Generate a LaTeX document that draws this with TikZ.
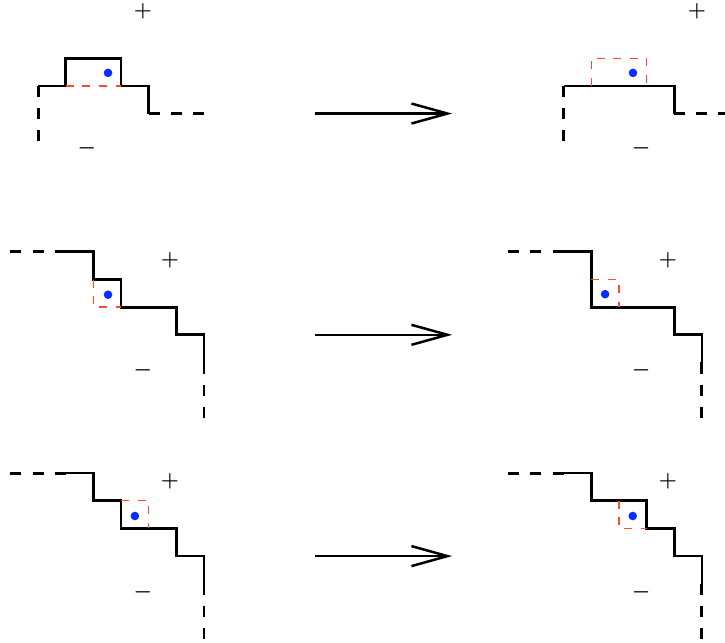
\documentclass[tikz,border=0pt]{standalone}
\usetikzlibrary{arrows.meta}
\definecolor{mvred}{RGB}{255,75,45}
\definecolor{mvblue}{RGB}{10,45,255}
\tikzset{
  wall/.style={line width=2.7pt, line join=miter, line cap=butt},
  wallext/.style={line width=2.9pt, dash pattern=on 11.06pt off 11.06pt},
  cellbox/.style={mvred, line width=1.4pt, dash pattern=on 8pt off 8.6pt},
  site/.style={fill=mvblue, draw=none},
  sign/.style={font=\fontsize{20}{24}\selectfont\boldmath, inner sep=0pt},
  move/.style={line width=2.5pt, -{Straight Barb[length=36pt,width=20pt,line width=2.5pt]}}
}
\begin{document}
\begin{tikzpicture}[x=27.66pt, y=-27.66pt]
\useasboundingbox (-0.376,-0.105) rectangle (25.835,23.14);
\clip (-0.376,-0.105) rectangle (25.835,23.14);

% ---------- Row 1, left ----------
\draw[wallext] (1,5) -- (1,3);
\draw[wall] (1,3) -- (2,3) -- (2,2) -- (4,2) -- (4,3) -- (5,3) -- (5,4);
\draw[wallext] (5,4) -- (7,4);
\draw[cellbox] (2,3) -- (4,3);
\fill[site] (3.53,2.53) circle (4.3pt);
\node[sign] (p1l) at (4.79,0.29) {$+$};
\node[sign] (m1l) at (2.77,5.25) {$-$};

% ---------- Row 1, right ----------
\draw[wallext] (20,5) -- (20,3);
\draw[wall] (20,3) -- (24,3) -- (24,4);
\draw[wallext] (24,4) -- (26,4);
\draw[cellbox] (21,3) -- (21,2) -- (23,2) -- (23,3);
\fill[site] (22.51,2.53) circle (4.3pt);
\node[sign] (p1r) at (24.82,0.29) {$+$};
\node[sign] (m1r) at (22.8,5.25) {$-$};

% ---------- Row 2, left ----------
\draw[wallext] (0,9) -- (2,9);
\draw[wall] (2,9) -- (3,9) -- (3,10) -- (4,10) -- (4,11) -- (6,11) -- (6,12) -- (7,12) -- (7,13);
\draw[wallext] (7,13) -- (7,15);
\draw[cellbox] (3,10) -- (3,11) -- (4,11);
\fill[site] (3.53,10.55) circle (4.3pt);
\node[sign] (p2l) at (5.77,9.3) {$+$};
\node[sign] (m2l) at (4.79,13.27) {$-$};

% ---------- Row 2, right ----------
\draw[wallext] (18,9) -- (20,9);
\draw[wall] (20,9) -- (21,9) -- (21,11) -- (24,11) -- (24,12) -- (25,12) -- (25,13);
\draw[wallext] (25,13) -- (25,15);
\draw[cellbox] (21,10) -- (22,10) -- (22,11);
\fill[site] (21.5,10.53) circle (4.3pt);
\node[sign] (p2r) at (23.77,9.3) {$+$};
\node[sign] (m2r) at (22.8,13.27) {$-$};

% ---------- Row 3, left ----------
\draw[wallext] (0,17) -- (2,17);
\draw[wall] (2,17) -- (3,17) -- (3,18) -- (4,18) -- (4,19) -- (6,19) -- (6,20) -- (7,20) -- (7,21);
\draw[wallext] (7,21) -- (7,23);
\draw[cellbox] (4,18) -- (5,18) -- (5,19);
\fill[site] (4.5,18.55) circle (4.3pt);
\node[sign] (p3l) at (5.77,17.28) {$+$};
\node[sign] (m3l) at (4.79,21.3) {$-$};

% ---------- Row 3, right ----------
\draw[wallext] (18,17) -- (20,17);
\draw[wall] (20,17) -- (21,17) -- (21,18) -- (23,18) -- (23,19) -- (24,19) -- (24,20) -- (25,20) -- (25,21);
\draw[wallext] (25,21) -- (25,23);
\draw[cellbox] (22,18) -- (22,19) -- (23,19);
\fill[site] (22.5,18.55) circle (4.3pt);
\node[sign] (p3r) at (23.77,17.28) {$+$};
\node[sign] (m3r) at (22.8,21.3) {$-$};

% ---------- Arrows ----------
\coordinate (a1s) at (11,4);  \coordinate (a1e) at (15.97,4);
\coordinate (a2s) at (11,12); \coordinate (a2e) at (15.97,12);
\coordinate (a3s) at (11,20); \coordinate (a3e) at (15.97,20);
\draw[move] (a1s) -- (a1e);
\draw[move] (a2s) -- (a2e);
\draw[move] (a3s) -- (a3e);
\end{tikzpicture}
\end{document}
